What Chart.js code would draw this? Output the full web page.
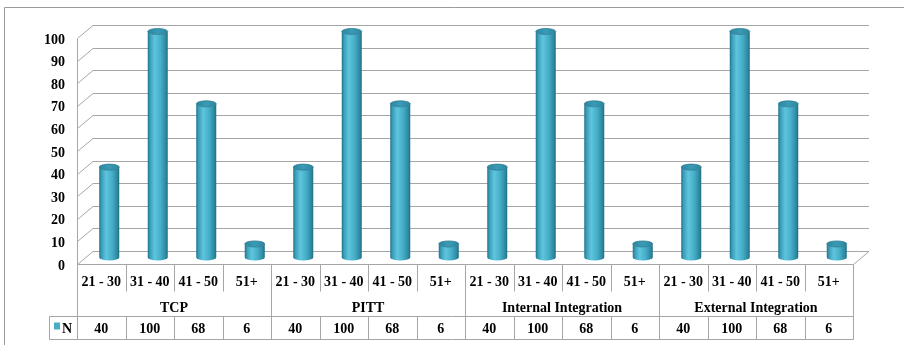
<!DOCTYPE html>
<html>
<head>
<meta charset="utf-8">
<script src="https://cdn.jsdelivr.net/npm/chart.js@4/dist/chart.umd.min.js"></script>
<style>
  html, body { margin: 0; padding: 0; background: #ffffff; }
  canvas { display: block; }
</style>
</head>
<body>
<canvas id="chart" width="904" height="345"></canvas>
<script>
// ---- data ----
const groups = ['TCP', 'PITT', 'Internal Integration', 'External Integration'];
const ageBands = ['21 - 30', '31 - 40', '41 - 50', '51+'];
const seriesName = 'N';
const seriesN = [40, 100, 68, 6, 40, 100, 68, 6, 40, 100, 68, 6, 40, 100, 68, 6];
const yTickMin = 0;
const yTickMax = 100;
const yTickStep = 10;

// one category per (group, age band) pair
const categories = groups.flatMap(g => ageBands.map(a => a + ' | ' + g));

// ---- styling ----
const FONT = 'bold 14px "Liberation Serif", "Times New Roman", serif';
const LINE = '#a6a6a6';
const BAR = '#4bacc6';
const DEPTH_X = 16;     // 3D depth offset of the back wall
const DEPTH_Y = -13;
const AGE_ROW_H = 27;
const GROUP_ROW_H = 25;
const DATA_ROW_H = 23;
const LEGEND_LEFT = 49;

function line(ctx, x1, y1, x2, y2) {
  ctx.beginPath();
  ctx.moveTo(x1, y1);
  ctx.lineTo(x2, y2);
  ctx.stroke();
}

// cylinder body + caps for one bar
function cylinder(ctx, cx, top, bottom, w) {
  const rx = w / 2, ry = 3;
  const g = ctx.createLinearGradient(cx - rx, 0, cx + rx, 0);
  g.addColorStop(0, '#21728a');
  g.addColorStop(0.12, '#3c9fba');
  g.addColorStop(0.35, '#5fc5de');
  g.addColorStop(0.65, '#46adc7');
  g.addColorStop(0.9, '#2d88a1');
  g.addColorStop(1, '#206c81');
  ctx.save();
  ctx.fillStyle = g;
  ctx.beginPath();
  ctx.moveTo(cx - rx, top);
  ctx.lineTo(cx - rx, bottom);
  ctx.ellipse(cx, bottom, rx, ry, 0, Math.PI, 0, true);
  ctx.lineTo(cx + rx, top);
  ctx.ellipse(cx, top, rx, ry, 0, 0, Math.PI, false);
  ctx.closePath();
  ctx.fill();
  // top cap
  const cg = ctx.createLinearGradient(cx - rx, 0, cx + rx, 0);
  cg.addColorStop(0, '#2c86a0');
  cg.addColorStop(0.5, '#3a9bb5');
  cg.addColorStop(1, '#2c86a0');
  ctx.fillStyle = cg;
  ctx.beginPath();
  ctx.ellipse(cx, top, rx, ry, 0, 0, Math.PI * 2);
  ctx.fill();
  ctx.strokeStyle = 'rgba(38,115,140,0.9)';
  ctx.lineWidth = 0.8;
  ctx.stroke();
  ctx.restore();
}

const frame3d = {
  id: 'frame3d',
  beforeDraw(chart) {
    const ctx = chart.ctx;
    ctx.save();
    ctx.strokeStyle = '#9a9a9a';
    ctx.lineWidth = 1;
    // outer chart border
    line(ctx, 4.5, 7.5, chart.width, 7.5);
    line(ctx, 4.5, 7.5, 4.5, chart.height);
    ctx.restore();
  },
  beforeDatasetsDraw(chart) {
    const ctx = chart.ctx;
    const y = chart.scales.y;
    const { left, right } = chart.chartArea;
    ctx.save();
    ctx.strokeStyle = LINE;
    ctx.lineWidth = 1;
    // wall grid lines: left-wall diagonal + back-wall horizontal
    y.ticks.forEach(t => {
      const yf = Math.round(y.getPixelForValue(t.value)) + 0.5;
      const yb = yf + DEPTH_Y;
      ctx.beginPath();
      ctx.moveTo(left + 0.5, yf);
      ctx.lineTo(left + DEPTH_X, yb);
      ctx.lineTo(right + DEPTH_X, yb);
      ctx.stroke();
    });
    // floor front edge and right edge
    const yb0 = Math.round(y.getPixelForValue(0)) + 0.5;
    line(ctx, left + 0.5, yb0, right + 0.5, yb0);
    line(ctx, right + 0.5, yb0, right + DEPTH_X, yb0 + DEPTH_Y);
    // left wall front edge
    line(ctx, left + 0.5, Math.round(y.getPixelForValue(yTickMax)) + 0.5, left + 0.5, yb0);
    ctx.restore();
  },
  afterDatasetsDraw(chart) {
    const ctx = chart.ctx;
    const meta = chart.getDatasetMeta(0);
    meta.data.forEach(el => {
      const p = el.getProps(['x', 'y', 'base', 'width'], true);
      cylinder(ctx, p.x + DEPTH_X / 2, p.y + DEPTH_Y / 2, p.base + DEPTH_Y / 2, p.width);
    });
  },
  afterDraw(chart) {
    const ctx = chart.ctx;
    const x = chart.scales.x;
    const { left, right, bottom } = chart.chartArea;
    const n = categories.length;
    const centers = categories.map((c, i) => x.getPixelForValue(i));
    const bounds = [left];
    for (let i = 1; i < n; i++) bounds.push((centers[i - 1] + centers[i]) / 2);
    bounds.push(right);
    const r0 = Math.round(bottom) + 0.5;
    const r1 = r0 + AGE_ROW_H;
    const r2 = r1 + GROUP_ROW_H;
    const r3 = r2 + DATA_ROW_H;

    ctx.save();
    ctx.strokeStyle = LINE;
    ctx.lineWidth = 1;
    // vertical separators
    for (let i = 0; i <= n; i++) {
      const bx = Math.round(bounds[i]) + 0.5;
      const groupEdge = (i % ageBands.length) === 0;
      line(ctx, bx, r0, bx, groupEdge ? r3 : r1);
      if (!groupEdge) line(ctx, bx, r2, bx, r3);
    }
    // horizontal rules of the data row, incl. legend cell
    line(ctx, LEGEND_LEFT + 0.5, r2, right + 0.5, r2);
    line(ctx, LEGEND_LEFT + 0.5, r3, right + 0.5, r3);
    line(ctx, LEGEND_LEFT + 0.5, r2, LEGEND_LEFT + 0.5, r3);

    ctx.fillStyle = '#000000';
    ctx.font = FONT;
    ctx.textAlign = 'center';
    ctx.textBaseline = 'middle';
    // age band labels and values
    categories.forEach((c, i) => {
      ctx.fillText(ageBands[i % ageBands.length], centers[i], r0 + 18);
      ctx.fillText(String(seriesN[i]), centers[i], (r2 + r3) / 2 + 1);
    });
    // group labels
    groups.forEach((g, gi) => {
      const a = bounds[gi * ageBands.length];
      const b = bounds[(gi + 1) * ageBands.length];
      ctx.fillText(g, (a + b) / 2, r1 + 17);
    });
    // legend key
    ctx.fillStyle = BAR;
    ctx.fillRect(LEGEND_LEFT + 5, r2 + 6, 6, 7);
    ctx.fillStyle = '#000000';
    ctx.textAlign = 'left';
    ctx.fillText(seriesName, LEGEND_LEFT + 13, (r2 + r3) / 2 + 1);
    ctx.restore();
  }
};

new Chart(document.getElementById('chart'), {
  type: 'bar',
  data: {
    labels: categories,
    datasets: [{
      label: seriesName,
      data: seriesN,
      backgroundColor: 'rgba(0,0,0,0)',
      borderWidth: 0,
      barThickness: 20
    }]
  },
  options: {
    responsive: false,
    devicePixelRatio: 1,
    animation: false,
    layout: { padding: { left: 0, top: 38, right: 51, bottom: 81 } },
    plugins: { legend: { display: false }, tooltip: { enabled: false } },
    scales: {
      x: { display: false, offset: true },
      y: {
        min: yTickMin,
        max: yTickMax,
        afterFit(scale) { scale.width = 77; },
        border: { display: false },
        grid: { display: false, drawTicks: false },
        ticks: {
          stepSize: yTickStep,
          padding: 12,
          labelOffset: 2,
          color: '#000000',
          font: { family: '"Liberation Serif", "Times New Roman", serif', size: 14, weight: 'bold' }
        }
      }
    }
  },
  plugins: [frame3d]
});
</script>
</body>
</html>
